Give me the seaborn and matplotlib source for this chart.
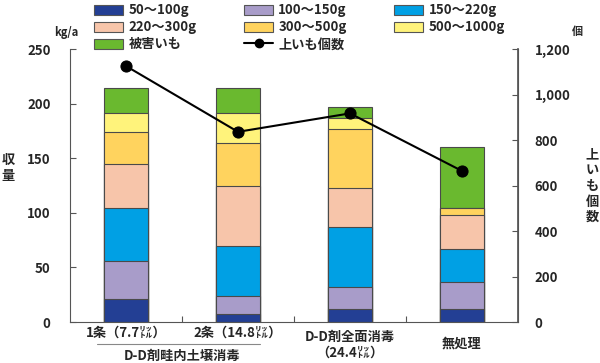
import matplotlib
matplotlib.use("Agg")
import matplotlib.pyplot as plt
import matplotlib.ticker as mticker
from matplotlib.patches import Patch
from matplotlib.lines import Line2D
import seaborn as sns
import pandas as pd
import numpy as np

# data
categories = ["1条（7.7㍑）", "2条（14.8㍑）", "D-D剤全面消毒\n（24.4㍑）", "無処理"]
size_classes = ["50～100g", "100～150g", "150～220g", "220～300g",
                "300～500g", "500～1000g", "被害いも"]
g50_100 = [21, 7, 12, 12]
g100_150 = [35, 17, 20, 25]
g150_220 = [48, 46, 55, 30]
g220_300 = [41, 55, 36, 31]
g300_500 = [29, 39, 54, 6.5]
g500_1000 = [17, 27, 9.5, 0]
damaged = [23, 23, 10, 56]
tuber_count = [1125, 836, 917, 664]

colors = ["#233f94", "#a89cc9", "#00a0e4", "#f7c5aa",
          "#ffd35e", "#fff37b", "#6ab92f"]

sns.set_theme(style="white")
plt.rcParams["font.family"] = ["Noto Sans CJK JP", "DejaVu Sans"]
plt.rcParams["font.weight"] = "bold"

fig = plt.figure(figsize=(6.0, 3.63), dpi=100)
ax = fig.add_axes([0.1167, 0.1129, 0.7466, 0.7521])

df = pd.DataFrame({"cat": categories})
layers = [g50_100, g100_150, g150_220, g220_300, g300_500, g500_1000, damaged]
cum = np.cumsum(np.array(layers), axis=0)

# draw tallest cumulative first so the lower layers sit on top
for i in range(len(layers) - 1, -1, -1):
    df["v"] = cum[i]
    sns.barplot(data=df, x="cat", y="v", color=colors[i], saturation=1,
                width=0.39, edgecolor="#4a4a4a", linewidth=0.8, ax=ax)

ax.set_xlim(-0.5, 3.5)
ax.set_ylim(0, 250)
ax.set_yticks(range(0, 251, 50))
ax.set_xlabel("")
ax.set_ylabel("")
ax.set_xticks([0.5, 1.5, 2.5], minor=False)
ax.set_xticklabels([])
ax.tick_params(axis="x", direction="in", length=4, width=0.8, color="#555555",
               bottom=True)
ax.tick_params(axis="y", direction="in", length=4, width=0.8, color="#555555",
               labelsize=9.5, left=True, pad=14)

for s in ["left", "bottom", "right"]:
    ax.spines[s].set_color("#555555")
    ax.spines[s].set_linewidth(0.8)
ax.spines["top"].set_visible(False)

ax2 = ax.twinx()
sns.lineplot(x=[0, 1, 2, 3], y=tuber_count, color="black", linewidth=1.5,
             marker="o", markersize=8, markeredgecolor="black", ax=ax2)
ax2.set_ylim(0, 1200)
ax2.set_yticks(range(0, 1201, 200))
ax2.yaxis.set_major_formatter(mticker.FuncFormatter(lambda v, p: f"{int(v):,}"))
ax2.tick_params(axis="y", direction="in", length=4, width=0.8, color="#555555",
                labelsize=9.5, right=True, pad=12)
ax2.spines["top"].set_visible(False)
ax2.spines["right"].set_color("#555555")
ax2.spines["left"].set_visible(False)
ax2.spines["bottom"].set_visible(False)
ax2.set_ylabel("")

# category labels
trans = ax.get_xaxis_transform()
ax.text(0, -0.015, categories[0], transform=trans, ha="center", va="top", fontsize=9.5)
ax.text(1, -0.015, categories[1], transform=trans, ha="center", va="top", fontsize=9.5)
ax.text(2, -0.03, categories[2], transform=trans, ha="center", va="top", fontsize=9.5,
        linespacing=1.15)
ax.text(3, -0.055, categories[3], transform=trans, ha="center", va="top", fontsize=9.5)
ax.plot([-0.26, 1.2], [-0.082, -0.082], transform=trans, color="#888888",
        linewidth=0.8, clip_on=False)
ax.text(0.5, -0.097, "D-D剤畦内土壌消毒", transform=trans, ha="center", va="top",
        fontsize=9.5)

# axis titles
fig.text(0.111, 0.91, "kg/a", ha="center", va="center", fontsize=8)
fig.text(0.014, 0.537, "収\n量", ha="center", va="center", fontsize=9.5,
         linespacing=1.25)
fig.text(0.963, 0.912, "個", ha="center", va="center", fontsize=8)
fig.text(0.987, 0.488, "上\nい\nも\n個\n数", ha="center", va="center", fontsize=9.5,
         linespacing=1.15)

handles = [Patch(facecolor=c, edgecolor="#555555", linewidth=0.8) for c in colors]
handles.append(Line2D([0], [0], color="black", linewidth=1.5, marker="o",
                      markersize=6))
labels = size_classes + ["上いも個数"]
order = [0, 3, 6, 1, 4, 7, 2, 5]
fig.legend([handles[i] for i in order], [labels[i] for i in order], ncol=3,
           loc="upper left", bbox_to_anchor=(0.148, 1.005), frameon=False,
           fontsize=9.5, handlelength=2.2, handleheight=0.8, handletextpad=0.4,
           columnspacing=3.6, labelspacing=0.22, borderaxespad=0)

fig.savefig("out.png", dpi=100)
